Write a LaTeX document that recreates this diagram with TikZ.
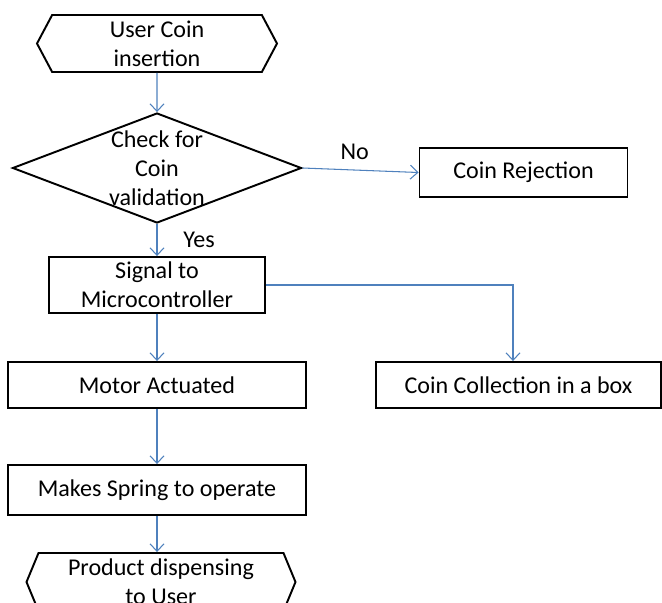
\documentclass[tikz,border=0pt]{standalone}
\usepackage{fontspec}
\setmainfont{Carlito}
\usepackage{tikz}
\usetikzlibrary{shapes.geometric,shapes.symbols,arrows.meta}
\definecolor{flowblue}{HTML}{4F81BD}

\begin{document}
\begin{tikzpicture}[node distance=2cm, font=\fontsize{13.7pt}{16.5pt}\selectfont]

		% Define styles
		\tikzstyle{process} = [
		rectangle, draw=black, line width=1.1pt,
		text centered, align=center, inner sep=0pt]
		\tikzstyle{terminal} = [
		signal, signal to=west and east, draw=black, line width=1.1pt,
		text centered, align=center, inner sep=0pt]
		\tikzstyle{decision} = [
		diamond, draw=black, line width=1.1pt, inner sep=0pt]
		\tikzstyle{arrow} = [flowblue, line width=0.6pt, ->,
		>={Straight Barb[length=1.5mm, width=2.8mm]}]

		\useasboundingbox (0,0) rectangle (13.24,-12.06);

		% Nodes
		\node (start) [terminal, minimum width=4.8cm, minimum height=1.14cm,
			signal pointer angle=124] at (3.14,-0.87) {User Coin\\insertion};

		\node (check) [decision, below of=start, yshift=-0.49cm,
			minimum width=5.78cm, minimum height=2.2cm,
			label={[align=center]center:Check for\\Coin\\validation}] {};

		\node (reject) [process, right of=check, xshift=5.33cm, yshift=-0.09cm,
			minimum width=4.16cm, minimum height=0.98cm] {Coin Rejection};

		\node (signal) [process, below of=check, yshift=-0.34cm,
			minimum width=4.32cm, minimum height=1.12cm] {Signal to\\Microcontroller};

		\node (motor) [process, below of=signal,
			minimum width=5.96cm, minimum height=0.92cm] {Motor Actuated};

		\node (collect) [process, right of=motor, xshift=5.23cm,
			minimum width=5.7cm, minimum height=0.92cm] {Coin Collection in a box};

		\node (spring) [process, below of=motor, yshift=-0.1cm,
			minimum width=5.96cm, minimum height=1cm] {Makes Spring to operate};

		\node (dispense) [terminal, below of=spring, yshift=0.16cm, xshift=0.08cm,
			minimum width=5.38cm, minimum height=1.16cm,
			signal pointer angle=135] {Product dispensing\\to User};

		% Arrows
		\draw [arrow] (start) -- (check);
		\draw [arrow] (check.east) -- node[above, pos=0.45, yshift=0.08cm, text=black] {No} (reject.west);
		\draw [arrow] (check) -- node[right, xshift=0.4cm, text=black] {Yes} (signal);
		\draw [arrow] (signal) -- (motor);
		\draw [arrow] (signal.east) -| ([xshift=-0.11cm]collect.north);
		\draw [arrow] (motor) -- (spring);
		\draw [arrow] (spring.south) -- (spring.south |- dispense.north);
	\end{tikzpicture}
\end{document}
